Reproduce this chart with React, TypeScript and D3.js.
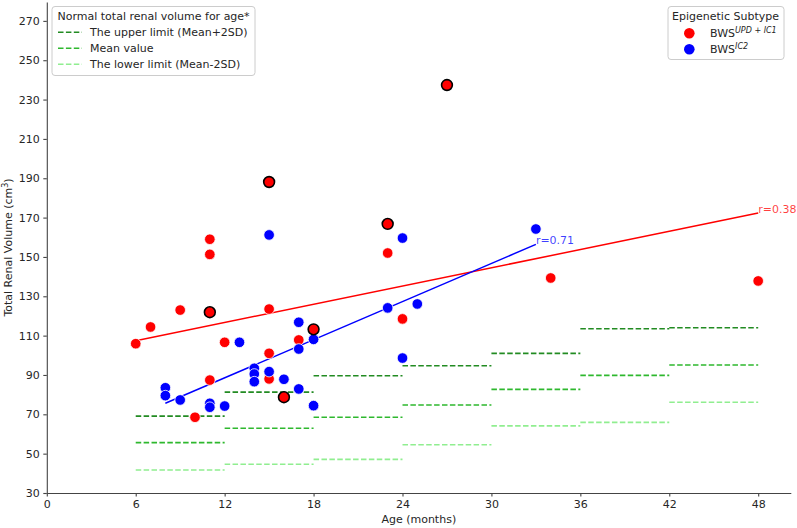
import React, { useRef, useEffect } from "react";
import * as d3 from "d3";

// red = BWS UPD+IC1, blue = BWS IC2, marked = red points with black outline
const redAge = [6, 7, 9, 10, 11, 11, 11, 12, 15, 15, 15, 17, 23, 24, 34, 48];
const redVol = [105.9, 114.4, 123.0, 68.5, 159.0, 151.3, 87.4, 106.6, 123.5, 101.0, 88.0, 107.8, 152.0, 118.5, 139.3, 137.8];
const markedAge = [11, 15, 16, 18, 23, 27];
const markedVol = [121.9, 188.1, 78.7, 113.2, 166.8, 237.4];
const blueAge = [8, 8, 9, 11, 11, 12, 13, 14, 14, 14, 15, 15, 16, 17, 17, 17, 18, 18, 23, 24, 24, 25, 33];
const blueVol = [83.5, 79.5, 77.3, 75.6, 73.6, 74.2, 106.6, 93.4, 90.5, 86.6, 91.7, 161.2, 87.8, 116.8, 103.2, 82.9, 108.1, 74.4, 124.1, 159.6, 98.6, 126.1, 164.2];

// normal volume per age band
const bandFrom = [6, 12, 18, 24, 30, 36, 42];
const bandTo = [12, 18, 24, 30, 36, 42, 48];
const upperLimit = [69.1, 81.3, 89.6, 94.7, 101.0, 113.5, 114.0];
const meanValue = [55.6, 62.9, 68.5, 74.7, 82.7, 89.8, 95.1];
const lowerLimit = [41.7, 44.6, 47.1, 54.5, 64.1, 65.9, 76.1];

// regression lines (end points)
const redFitAge = [6, 48];
const redFitVol = [107.4, 172.3];
const blueFitAge = [8, 33];
const blueFitVol = [75.6, 156.4];

const xTicks = [0, 6, 12, 18, 24, 30, 36, 42, 48];
const yTicks = [30, 50, 70, 90, 110, 130, 150, 170, 190, 210, 230, 250, 270];

const normalLabels = ["The upper limit (Mean+2SD)", "Mean value", "The lower limit (Mean-2SD)"];
const normalColors = ["#228b22", "#2eb82e", "#90ee90"];

const FONT = "DejaVu Sans, sans-serif";

const App = () => {
  const svgRef = useRef(null);

  useEffect(() => {
    const svg = d3.select(svgRef.current);
    svg.selectAll("*").remove();

    const x = d3.scaleLinear().domain([0, 50.2]).range([46.8, 790.8]);
    const y = d3.scaleLinear().domain([30, 279.6]).range([493, 2]);

    // reference bands
    [upperLimit, meanValue, lowerLimit].forEach((vals, k) => {
      svg.append("g")
        .selectAll("line")
        .data(vals)
        .enter()
        .append("line")
        .attr("x1", (d, i) => x(bandFrom[i]))
        .attr("x2", (d, i) => x(bandTo[i]))
        .attr("y1", (d) => y(d))
        .attr("y2", (d) => y(d))
        .attr("stroke", normalColors[k])
        .attr("stroke-width", 1.6)
        .attr("stroke-dasharray", "5.5,2.4");
    });

    // regression lines
    const line = d3.line().x((d) => x(d[0])).y((d) => y(d[1]));
    const fits = [
      { a: redFitAge, v: redFitVol, c: "#ff0000", t: "r=0.38" },
      { a: blueFitAge, v: blueFitVol, c: "#0000ff", t: "r=0.71" },
    ];
    fits.forEach((f) => {
      svg.append("path")
        .attr("d", line(f.a.map((a, i) => [a, f.v[i]])))
        .attr("fill", "none")
        .attr("stroke", f.c)
        .attr("stroke-width", 1.5);
      svg.append("text")
        .attr("x", x(f.a[1]))
        .attr("y", y(f.v[1]))
        .attr("fill", f.c)
        .attr("fill-opacity", 0.75)
        .attr("font-family", FONT)
        .attr("font-size", 11)
        .text(f.t);
    });

    // points
    const dots = (ages, vols, fill, stroke, sw, r) => {
      svg.append("g")
        .selectAll("circle")
        .data(ages)
        .enter()
        .append("circle")
        .attr("cx", (d) => x(d))
        .attr("cy", (d, i) => y(vols[i]))
        .attr("r", r)
        .attr("fill", fill)
        .attr("stroke", stroke)
        .attr("stroke-width", sw);
    };
    dots(redAge, redVol, "#ff0000", "#ffffff", 0.8, 5.3);
    dots(blueAge, blueVol, "#0000ff", "#ffffff", 0.8, 5.3);
    dots(markedAge, markedVol, "#ff0000", "#000000", 1.6, 5.4);

    // axes
    const xAxis = svg.append("g")
      .attr("transform", `translate(0, ${y(30)})`)
      .call(d3.axisBottom(x).tickValues(xTicks).tickSize(3.5).tickPadding(3.5).tickSizeOuter(0));
    const yAxis = svg.append("g")
      .attr("transform", `translate(${x(0)}, 0)`)
      .call(d3.axisLeft(y).tickValues(yTicks).tickSize(3.5).tickPadding(3.5).tickSizeOuter(0));
    [xAxis, yAxis].forEach((g) => {
      g.select(".domain").attr("stroke", "#444").attr("stroke-width", 1.1);
      g.selectAll(".tick line").attr("stroke", "#444").attr("stroke-width", 1.1);
      g.selectAll(".tick text")
        .attr("fill", "#262626")
        .attr("font-family", FONT)
        .attr("font-size", 11);
    });

    svg.append("text")
      .attr("x", (x(0) + x(50.2)) / 2)
      .attr("y", 523)
      .attr("text-anchor", "middle")
      .attr("fill", "#262626")
      .attr("font-family", FONT)
      .attr("font-size", 11)
      .text("Age (months)");

    const yl = svg.append("text")
      .attr("transform", `translate(12, ${(y(30) + y(279.6)) / 2}) rotate(-90)`)
      .attr("text-anchor", "middle")
      .attr("fill", "#262626")
      .attr("font-family", FONT)
      .attr("font-size", 11);
    yl.append("tspan").text("Total Renal Volume (cm");
    yl.append("tspan").attr("font-size", 8).attr("dy", -4).text("3");
    yl.append("tspan").attr("dy", 4).text(")");

    // legend: normal volume
    const lg1 = svg.append("g");
    lg1.append("rect")
      .attr("x", 52).attr("y", 6.5).attr("width", 203).attr("height", 69).attr("rx", 3)
      .attr("fill", "#ffffff").attr("fill-opacity", 0.85)
      .attr("stroke", "#cccccc").attr("stroke-width", 1);
    lg1.append("text")
      .attr("x", 57.5).attr("y", 20)
      .attr("fill", "#262626").attr("font-family", FONT).attr("font-size", 11)
      .text("Normal total renal volume for age*");
    normalLabels.forEach((lab, i) => {
      const cy = 32.3 + i * 16;
      lg1.append("line")
        .attr("x1", 58).attr("x2", 82).attr("y1", cy).attr("y2", cy)
        .attr("stroke", normalColors[i]).attr("stroke-width", 1.6)
        .attr("stroke-dasharray", "5.5,2.4");
      lg1.append("text")
        .attr("x", 90).attr("y", cy + 4)
        .attr("fill", "#262626").attr("font-family", FONT).attr("font-size", 11)
        .text(lab);
    });

    // legend: subtype
    const lg2 = svg.append("g");
    lg2.append("rect")
      .attr("x", 668).attr("y", 6.5).attr("width", 116).attr("height", 53).attr("rx", 3)
      .attr("fill", "#ffffff").attr("fill-opacity", 0.85)
      .attr("stroke", "#cccccc").attr("stroke-width", 1);
    lg2.append("text")
      .attr("x", 725.5).attr("y", 20).attr("text-anchor", "middle")
      .attr("fill", "#262626").attr("font-family", FONT).attr("font-size", 11)
      .text("Epigenetic Subtype");
    [["#ff0000", "UPD + IC1"], ["#0000ff", "IC2"]].forEach(([c, sup], i) => {
      const cy = 33.3 + i * 16;
      lg2.append("circle").attr("cx", 689.3).attr("cy", cy).attr("r", 5.3).attr("fill", c);
      const t = lg2.append("text")
        .attr("x", 710).attr("y", cy + 4)
        .attr("fill", "#262626").attr("font-family", FONT).attr("font-size", 11);
      t.append("tspan").text("BWS");
      t.append("tspan").attr("dy", -4).attr("font-size", 8).attr("font-style", "italic").text(sup);
    });
  }, []);

  return <svg ref={svgRef} width={797} height={528} style={{ position: "absolute", left: 0, top: 0 }} />;
};

export default App;
